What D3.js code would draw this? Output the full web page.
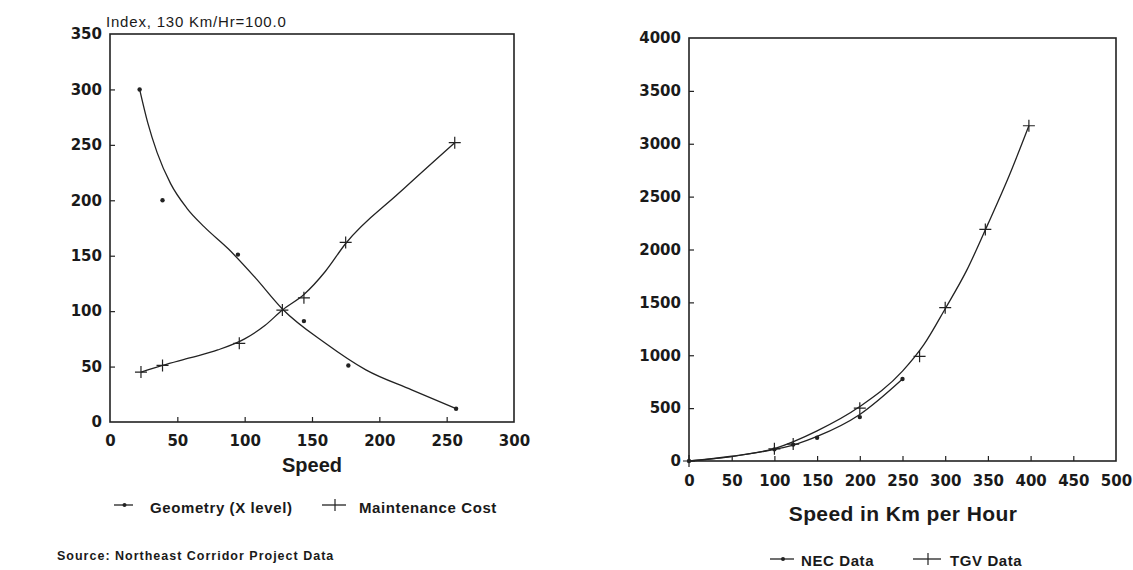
<!DOCTYPE html>
<html>
<head>
<meta charset="utf-8">
<script src="https://cdn.jsdelivr.net/npm/d3@7/dist/d3.min.js"></script>
<style>
  html, body { margin: 0; padding: 0; background: #fff; }
  svg { display: block; }
  .tick text { font-family: "DejaVu Sans", sans-serif; font-weight: bold; font-size: 15px; fill: #1a1a1a; }
  .tick line { stroke: #222; stroke-width: 1.2; }
  .lbl { font-family: "Liberation Sans", Arial, sans-serif; font-weight: bold; fill: #1a1a1a; }
</style>
</head>
<body>
<svg id="chart" width="1133" height="570"></svg>
<script>
// ---------- Left chart data (Index, 130 Km/Hr = 100) ----------
const leftXTicks = [0, 50, 100, 150, 200, 250, 300];
const leftYTicks = [0, 50, 100, 150, 200, 250, 300, 350];
const geomSpeed = [22, 39, 95, 144, 177, 257];
const geomValue = [300, 200, 151, 91, 51, 12];
const maintSpeed = [23, 39, 96, 128, 144, 175, 256];
const maintValue = [45, 51, 71, 101, 112, 162, 252];
// fitted curves as drawn in the picture
const geomFitSpeed = [22, 28, 35, 45, 57, 70, 88, 108, 128, 160, 190, 224, 257];
const geomFitValue = [300, 270, 243, 215, 193, 176, 156, 130, 102, 71, 47, 29, 12];
const maintFitSpeed = [23, 39, 60, 80, 100, 115, 128, 144, 160, 175, 215, 256];
const maintFitValue = [45, 51, 58, 65, 75, 87, 101, 115, 136, 161, 207, 252];

// ---------- Right chart data ----------
const rightXTicks = [0, 50, 100, 150, 200, 250, 300, 350, 400, 450, 500];
const rightYTicks = [0, 500, 1000, 1500, 2000, 2500, 3000, 3500, 4000];
const necSpeed = [0, 100, 122, 150, 200, 250];
const necValue = [0, 110, 155, 220, 415, 775];
const tgvSpeed = [0, 100, 122, 200, 270, 300, 347, 398];
const tgvValue = [0, 115, 160, 500, 990, 1450, 2190, 3170];
const necFitSpeed = [0, 50, 100, 125, 150, 200, 250];
const necFitValue = [0, 42, 110, 158, 232, 440, 775];
const tgvFitSpeed = [0, 50, 100, 150, 200, 250, 275, 300, 325, 350, 375, 398];
const tgvFitValue = [0, 45, 118, 285, 515, 850, 1100, 1440, 1800, 2240, 2700, 3170];

const svg = d3.select("#chart");
const INK = "#222";

function zip(xs, ys) { return xs.map((x, i) => [x, ys[i]]); }

function drawPanel(cfg) {
  const x = d3.scaleLinear().domain(cfg.xDomain).range([cfg.left, cfg.right]);
  const y = d3.scaleLinear().domain(cfg.yDomain).range([cfg.bottom, cfg.top]);
  const g = svg.append("g");

  const ax = g.append("g").attr("transform", `translate(0,${cfg.bottom})`)
    .call(d3.axisBottom(x).tickValues(cfg.xTicks).tickFormat(d3.format("d"))
      .tickSizeInner(-5).tickSizeOuter(0).tickPadding(cfg.xPad));
  ax.select(".domain").remove();
  ax.selectAll(".tick line").filter(d => d === cfg.xTicks[0] || d === cfg.xTicks[cfg.xTicks.length - 1]).remove();
  const ay = g.append("g").attr("transform", `translate(${cfg.left},0)`)
    .call(d3.axisLeft(y).tickValues(cfg.yTicks).tickFormat(d3.format("d"))
      .tickSizeInner(-5).tickSizeOuter(0).tickPadding(8));
  ay.select(".domain").remove();
  ay.selectAll(".tick line").filter(d => d === cfg.yTicks[0] || d === cfg.yTicks[cfg.yTicks.length - 1]).remove();

  g.append("rect")
    .attr("x", cfg.left).attr("y", cfg.top)
    .attr("width", cfg.right - cfg.left).attr("height", cfg.bottom - cfg.top)
    .attr("fill", "none").attr("stroke", INK).attr("stroke-width", 1.6);

  const line = d3.line().x(d => x(d[0])).y(d => y(d[1])).curve(d3.curveMonotoneX);
  cfg.fits.forEach(f => {
    g.append("path").datum(zip(f[0], f[1])).attr("d", line)
      .attr("fill", "none").attr("stroke", INK).attr("stroke-width", 1.3);
  });

  g.selectAll(null).data(zip(cfg.dots[0], cfg.dots[1])).join("circle")
    .attr("cx", d => x(d[0])).attr("cy", d => y(d[1])).attr("r", 2.2).attr("fill", INK);
  g.selectAll(null).data(zip(cfg.crosses[0], cfg.crosses[1])).join("path")
    .attr("d", d => { const cx = x(d[0]), cy = y(d[1]); return `M${cx-6},${cy}H${cx+6}M${cx},${cy-6}V${cy+6}`; })
    .attr("stroke", INK).attr("stroke-width", 1.2).attr("fill", "none");
  return { x, y };
}

drawPanel({
  left: 110, right: 514, top: 34, bottom: 422,
  xDomain: [0, 300], yDomain: [0, 350],
  xTicks: leftXTicks, yTicks: leftYTicks, xPad: 13,
  fits: [[geomFitSpeed, geomFitValue], [maintFitSpeed, maintFitValue]],
  dots: [geomSpeed, geomValue],
  crosses: [maintSpeed, maintValue]
});

drawPanel({
  left: 689, right: 1116, top: 38, bottom: 461,
  xDomain: [0, 500], yDomain: [0, 4000],
  xTicks: rightXTicks, yTicks: rightYTicks, xPad: 14,
  fits: [[necFitSpeed, necFitValue], [tgvFitSpeed, tgvFitValue]],
  dots: [necSpeed, necValue],
  crosses: [tgvSpeed, tgvValue]
});

svg.append("text").attr("x", 106).attr("y", 27)
  .attr("font-family", "Liberation Sans, Arial, sans-serif").attr("font-size", 15)
  .attr("letter-spacing", 0.8).attr("fill", "#1a1a1a").text("Index, 130 Km/Hr=100.0");

svg.append("text").attr("class", "lbl").attr("x", 312).attr("y", 472)
  .attr("text-anchor", "middle").attr("font-size", 20).text("Speed");

svg.append("text").attr("class", "lbl").attr("x", 903).attr("y", 521)
  .attr("text-anchor", "middle").attr("font-size", 21).attr("letter-spacing", 0.4).text("Speed in Km per Hour");

svg.append("text").attr("class", "lbl").attr("x", 57).attr("y", 560)
  .attr("font-size", 12.5).attr("letter-spacing", 1).text("Source: Northeast Corridor Project Data");

function legendItem(x0, x1, yLine, textX, baseline, label, marker) {
  svg.append("line").attr("x1", x0).attr("x2", x1).attr("y1", yLine).attr("y2", yLine)
    .attr("stroke", INK).attr("stroke-width", 1.3);
  const mx = (x0 + x1) / 2 + 1;
  if (marker === "dot") {
    svg.append("circle").attr("cx", mx).attr("cy", yLine).attr("r", 2).attr("fill", INK);
  } else {
    svg.append("path").attr("d", `M${mx},${yLine-6}V${yLine+6}`).attr("stroke", INK).attr("stroke-width", 1.2);
  }
  svg.append("text").attr("class", "lbl").attr("x", textX).attr("y", baseline)
    .attr("font-size", 15).attr("letter-spacing", 0.6).text(label);
}
legendItem(114, 133, 505, 150, 513, "Geometry (X level)", "dot");
legendItem(322, 346, 505, 359, 513, "Maintenance Cost", "cross");
legendItem(770, 794, 559, 801, 566, "NEC Data", "dot");
legendItem(913, 941, 559, 950, 566, "TGV Data", "cross");
</script>
</body>
</html>
